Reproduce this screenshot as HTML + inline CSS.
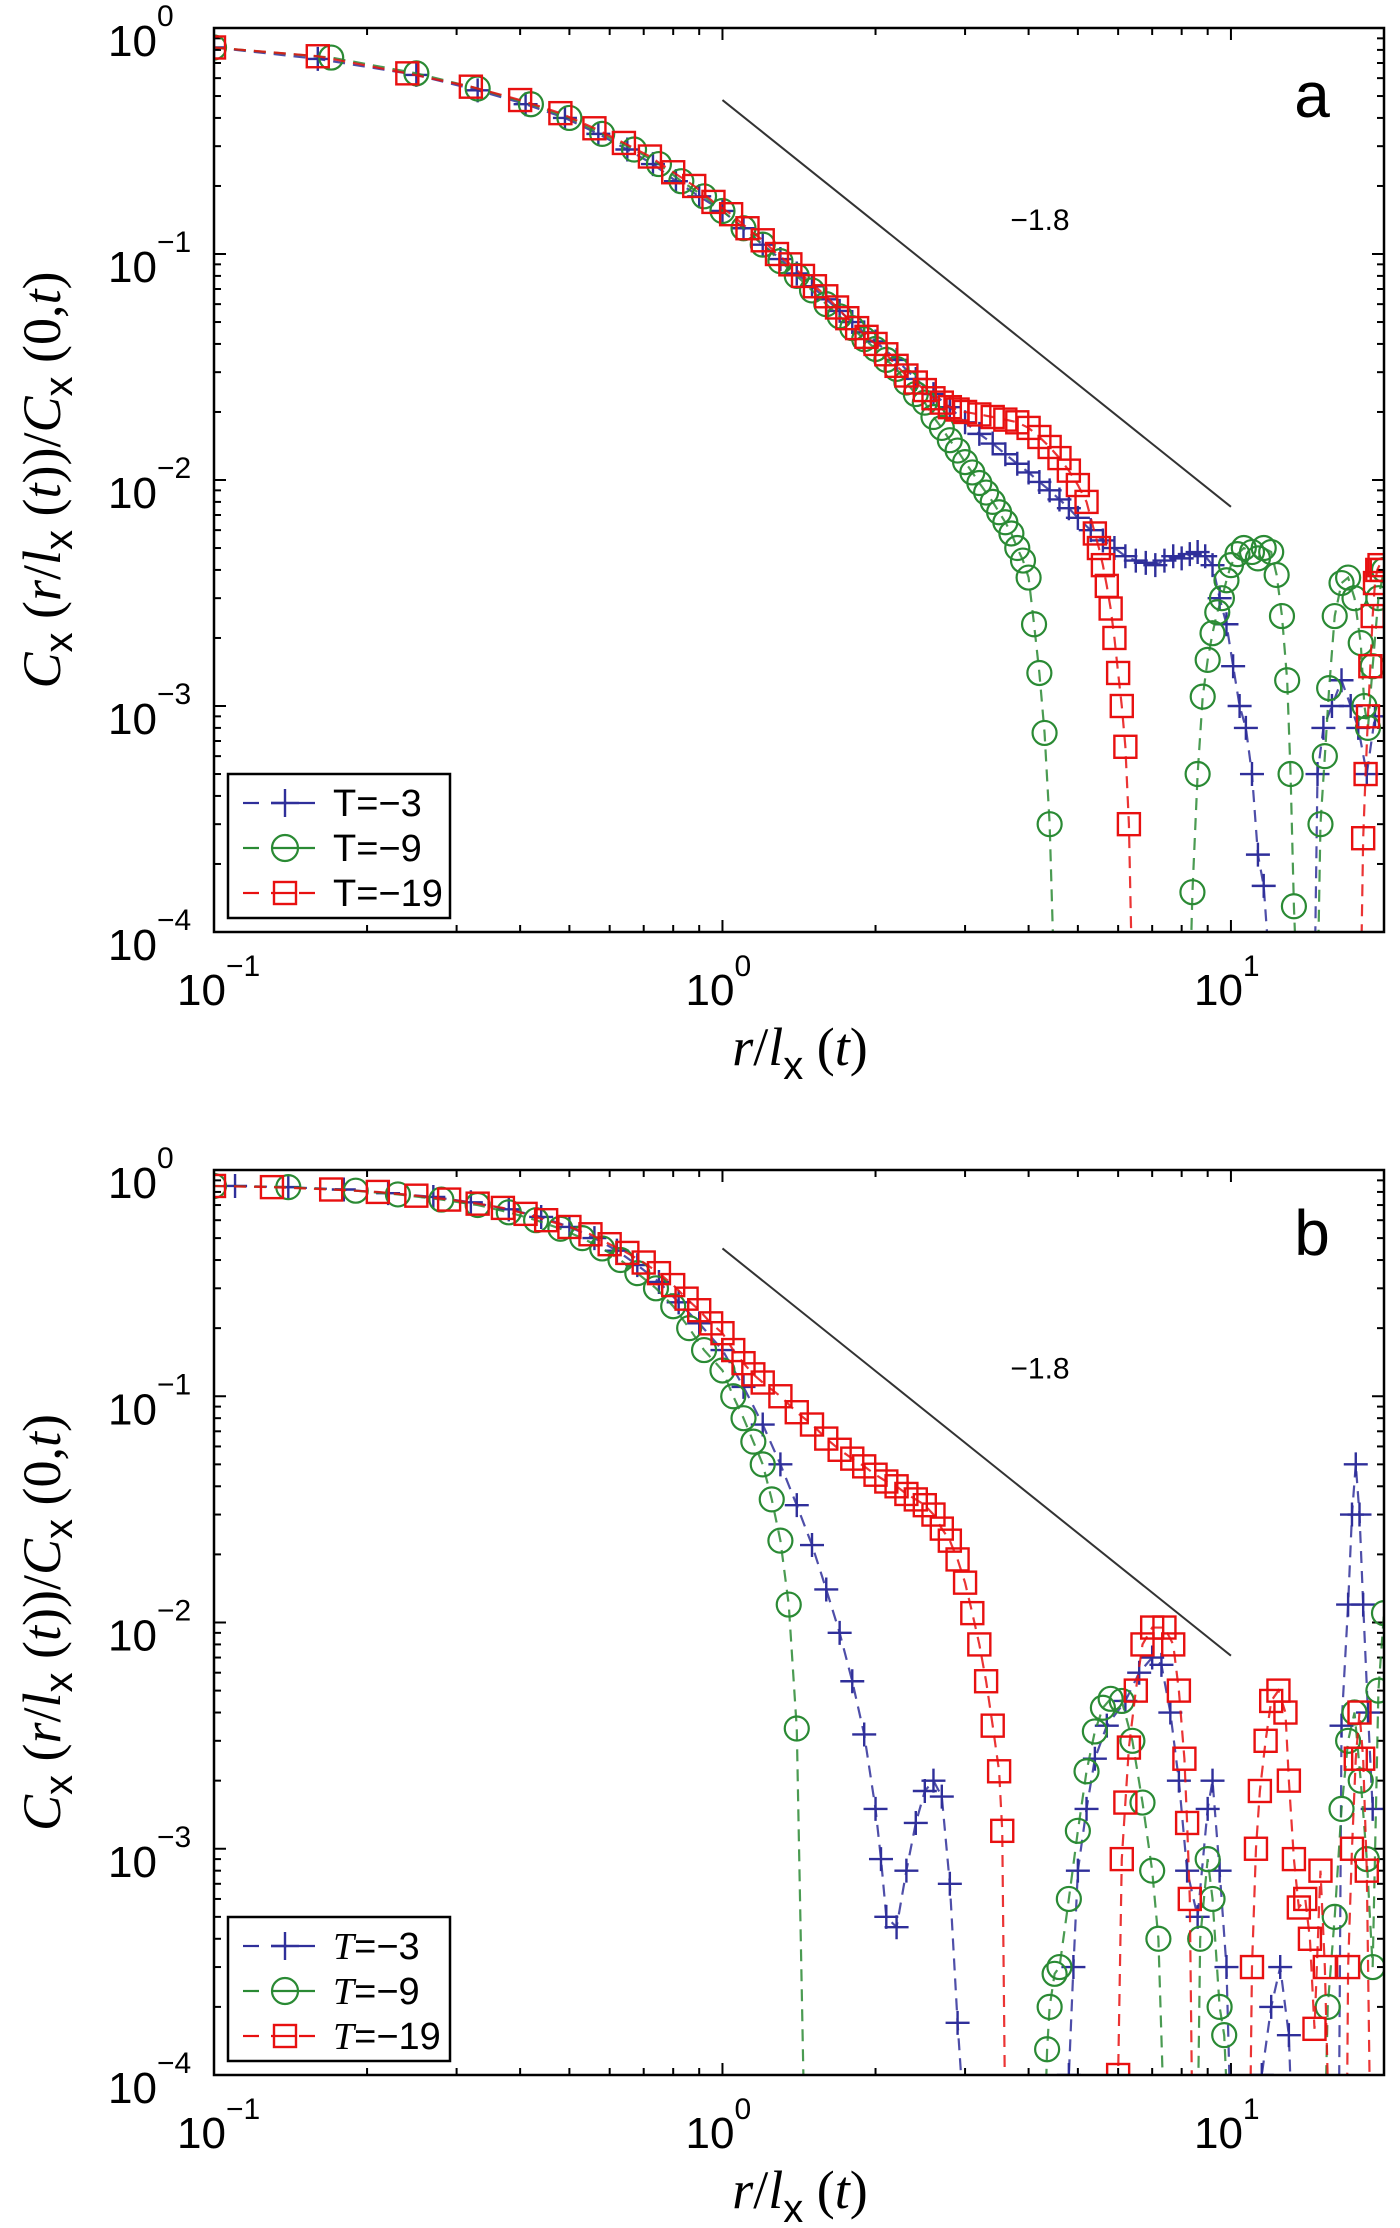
<!DOCTYPE html>
<html><head><meta charset="utf-8">
<style>
html,body{margin:0;padding:0;background:#fff;}
svg{display:block;font-family:"Liberation Sans","DejaVu Sans",sans-serif;}
</style></head>
<body>
<svg id="fig" width="1400" height="2228" viewBox="0 0 1400 2228" xmlns="http://www.w3.org/2000/svg"></svg>
<script>
// ---------- Panel a data (null = negative value, off log scale) ----------
const aBlueX=[0.1,0.16,0.25,0.33,0.41,0.49,0.57,0.65,0.73,0.81,0.9,1.0,1.1,1.2,1.3,1.4,1.5,1.6,1.7,1.8,1.9,2.0,2.2,2.4,2.6,2.8,3.0,3.2,3.4,3.6,3.8,4.0,4.2,4.4,4.6,4.8,5.0,5.3,5.6,5.9,6.2,6.5,6.8,7.1,7.4,7.7,8.0,8.3,8.6,8.9,9.2,9.5,9.8,10.1,10.4,10.7,11.0,11.3,11.6,12,14.6,14.8,15.2,15.8,16.5,17.2,17.8,18.5,19.2];
const aBlueY=[0.82,0.73,0.62,0.53,0.46,0.40,0.34,0.29,0.25,0.21,0.18,0.155,0.13,0.11,0.095,0.082,0.072,0.063,0.056,0.05,0.045,0.041,0.034,0.028,0.024,0.021,0.018,0.016,0.0145,0.013,0.0118,0.0108,0.0098,0.009,0.0082,0.0075,0.0068,0.006,0.0054,0.005,0.0046,0.0044,0.0043,0.0042,0.0044,0.0046,0.0045,0.0047,0.0048,0.0046,0.0042,0.003,0.0023,0.0015,0.001,0.0008,0.0005,0.00022,0.00016,null,null,0.0005,0.0008,0.001,0.0013,0.001,0.0008,0.0005,0.0009];
const aGreenX=[0.1,0.17,0.25,0.33,0.42,0.5,0.58,0.67,0.75,0.83,0.92,1.0,1.1,1.2,1.3,1.4,1.5,1.6,1.7,1.8,1.9,2.0,2.1,2.2,2.3,2.4,2.5,2.6,2.7,2.8,2.9,3.0,3.1,3.2,3.3,3.4,3.5,3.6,3.7,3.8,3.9,4.0,4.1,4.2,4.3,4.4,4.5,8.3,8.4,8.6,8.8,9.0,9.2,9.4,9.6,9.8,10,10.3,10.6,11,11.3,11.6,12,12.3,12.6,12.9,13.1,13.3,13.5,14.8,15.0,15.3,15.6,16,16.5,17,17.5,18,18.3,18.6,19,19.5,20];
const aGreenY=[0.82,0.74,0.63,0.54,0.46,0.40,0.34,0.29,0.25,0.21,0.18,0.155,0.13,0.11,0.093,0.08,0.069,0.06,0.053,0.047,0.042,0.038,0.034,0.031,0.027,0.024,0.022,0.019,0.017,0.015,0.0135,0.012,0.0108,0.0097,0.0088,0.008,0.0072,0.0065,0.0058,0.005,0.0044,0.0037,0.0023,0.0014,0.00076,0.0003,null,null,0.00015,0.0005,0.0011,0.0016,0.0021,0.0026,0.003,0.0036,0.0042,0.0047,0.005,0.0048,0.0045,0.005,0.0048,0.0038,0.0025,0.0013,0.0005,0.00013,null,null,0.0003,0.0006,0.0012,0.0025,0.0035,0.0037,0.003,0.0019,0.001,0.0008,0.0015,0.003,0.004];
const aRedX=[0.1,0.16,0.24,0.32,0.40,0.48,0.56,0.64,0.72,0.80,0.88,0.96,1.04,1.12,1.20,1.28,1.36,1.44,1.52,1.60,1.68,1.76,1.84,1.92,2.0,2.1,2.2,2.3,2.4,2.5,2.6,2.7,2.8,2.9,3.0,3.2,3.4,3.6,3.8,4.0,4.2,4.4,4.6,4.8,5.0,5.2,5.4,5.5,5.6,5.7,5.8,5.9,6.0,6.1,6.2,6.3,6.4,18.0,18.2,18.4,18.6,18.8,19.0,19.2,19.4,19.6,19.8];
const aRedY=[0.82,0.75,0.63,0.55,0.48,0.42,0.36,0.31,0.27,0.23,0.20,0.17,0.15,0.13,0.115,0.10,0.09,0.08,0.072,0.065,0.058,0.052,0.047,0.043,0.04,0.036,0.032,0.029,0.027,0.025,0.023,0.022,0.021,0.0205,0.02,0.0195,0.019,0.0185,0.018,0.017,0.0155,0.014,0.0125,0.011,0.0095,0.008,0.0058,0.005,0.0042,0.0034,0.0027,0.002,0.0014,0.001,0.00066,0.0003,null,null,0.00026,0.0005,0.0009,0.0015,0.0025,0.0035,0.004,0.0042,0.004];
// ---------- Panel b data ----------
const bBlueX=[0.11,0.14,0.18,0.22,0.27,0.32,0.38,0.44,0.5,0.56,0.62,0.68,0.75,0.82,0.9,1.0,1.1,1.2,1.3,1.4,1.5,1.6,1.7,1.8,1.9,2.0,2.05,2.1,2.2,2.3,2.4,2.5,2.6,2.7,2.8,2.9,3.0,4.7,4.8,4.9,5.0,5.2,5.4,5.7,6.2,6.6,7.0,7.3,7.6,7.9,8.2,8.6,9.0,9.2,9.5,9.8,10,11.3,11.5,12,12.5,13,13.2,16.3,16.5,17,17.3,17.6,17.9,18.2,18.6,19];
const bBlueY=[0.85,0.84,0.82,0.79,0.76,0.72,0.67,0.62,0.56,0.5,0.44,0.38,0.32,0.26,0.21,0.16,0.11,0.075,0.05,0.033,0.022,0.014,0.009,0.0055,0.0032,0.0015,0.0009,0.0005,0.00045,0.0008,0.0013,0.0018,0.002,0.0017,0.0007,0.00017,null,null,0.0001,0.0003,0.0008,0.0015,0.0025,0.0035,0.0045,0.006,0.007,0.0065,0.004,0.002,0.0008,0.0005,0.0015,0.002,0.0008,0.0003,null,null,0.0001,0.0002,0.0003,0.00015,null,null,0.0035,0.012,0.03,0.05,0.03,0.012,0.004,0.0015];
const bGreenX=[0.1,0.14,0.19,0.23,0.28,0.33,0.38,0.43,0.48,0.53,0.58,0.63,0.68,0.74,0.8,0.86,0.92,1.0,1.05,1.1,1.15,1.2,1.25,1.3,1.35,1.4,1.45,4.3,4.35,4.4,4.5,4.6,4.8,5.0,5.2,5.4,5.6,5.8,6.1,6.4,6.7,7.0,7.2,7.4,8.6,8.7,9.0,9.2,9.5,9.7,9.9,15.3,15.5,16,16.5,17,17.5,18,18.5,19,19.5,20];
const bGreenY=[0.85,0.84,0.81,0.78,0.74,0.70,0.65,0.6,0.55,0.5,0.45,0.4,0.35,0.3,0.25,0.2,0.16,0.13,0.1,0.08,0.063,0.05,0.035,0.023,0.012,0.0034,null,null,0.00013,0.0002,0.00028,0.0003,0.0006,0.0012,0.0022,0.0033,0.0042,0.0046,0.0045,0.003,0.0016,0.0008,0.0004,null,null,0.0004,0.0009,0.0006,0.0002,0.00015,null,null,0.0002,0.0005,0.0015,0.003,0.004,0.002,0.0009,0.0003,0.005,0.011];
const bRedX=[0.1,0.13,0.17,0.21,0.25,0.29,0.33,0.37,0.41,0.45,0.5,0.55,0.6,0.65,0.7,0.75,0.8,0.85,0.9,0.95,1.0,1.05,1.1,1.15,1.2,1.3,1.4,1.5,1.6,1.7,1.8,1.9,2.0,2.1,2.2,2.3,2.4,2.5,2.6,2.7,2.8,2.9,3.0,3.1,3.2,3.3,3.4,3.5,3.55,3.6,5.95,6.0,6.1,6.2,6.3,6.5,6.7,7.0,7.4,7.7,7.9,8.1,8.2,8.3,8.4,10.9,11.0,11.2,11.4,11.7,12.0,12.4,12.8,13.0,13.3,13.6,14.0,14.3,14.6,15.0,15.3,15.6,16.9,17.0,17.3,17.6,17.9,18.2,18.5,18.8];
const bRedY=[0.85,0.84,0.82,0.8,0.77,0.74,0.71,0.68,0.64,0.6,0.56,0.52,0.47,0.43,0.39,0.35,0.31,0.27,0.24,0.21,0.19,0.16,0.14,0.125,0.115,0.1,0.085,0.075,0.065,0.058,0.053,0.049,0.045,0.042,0.04,0.037,0.035,0.033,0.03,0.026,0.023,0.019,0.015,0.011,0.008,0.0055,0.0035,0.0022,0.0012,null,null,0.0001,0.0009,0.0016,0.0028,0.005,0.008,0.0095,0.0095,0.008,0.005,0.0025,0.0013,0.0006,null,null,0.0003,0.001,0.0018,0.003,0.0045,0.005,0.004,0.002,0.0009,0.00055,0.0006,0.0004,0.00016,0.0008,0.0003,null,null,0.0003,0.001,0.0025,0.004,0.0025,0.0008,null];
const legendA=["T=\u22123","T=\u22129","T=\u221219"];
const slopeExp=-1.8;
const yTickExps=[0,-1,-2,-3,-4];
const xTickExps=[-1,0,1];

const NS="http://www.w3.org/2000/svg";
const svg=document.getElementById('fig');
function el(tag,attrs,parent){const e=document.createElementNS(NS,tag);for(const k in attrs)e.setAttribute(k,attrs[k]);(parent||svg).appendChild(e);return e;}
const L=214,R=1384,XMIN=0.1,XMAX=20;
const colors={blue:"#2f2f9a",green:"#2a8a34",red:"#e81010"};

function drawPanel(T,B,letter,letterY,series,slopeA,italicT,tag){
  const g=el('g',{});
  
  
  const fx=x=>L+(Math.log10(x)-Math.log10(XMIN))/(Math.log10(XMAX)-Math.log10(XMIN))*(R-L);
  const fy=y=>T+(0-Math.log10(y))/4*(B-T);
  const cid='clip'+tag;
  const cp=el('clipPath',{id:cid},g);el('rect',{x:L,y:T,width:R-L,height:B-T},cp);
  // ticks
  const tk=el('g',{stroke:'#000','stroke-width':2},g);
  
  
  for(let e=-1;e<=1;e++)for(let m=1;m<=9;m++){const v=m*Math.pow(10,e);if(v<XMIN||v>XMAX)continue;const x=fx(v);const len=m===1?12:7;
    el('line',{x1:x,y1:B,x2:x,y2:B-len},tk);el('line',{x1:x,y1:T,x2:x,y2:T+len},tk);}
  for(let e=-4;e<0;e++)for(let m=1;m<=9;m++){const v=m*Math.pow(10,e);const y=fy(v);const len=m===1?12:7;
    el('line',{x1:L,y1:y,x2:L+len,y2:y},tk);el('line',{x1:R,y1:y,x2:R-len,y2:y},tk);}
  // series
  series.forEach(s=>{
    const sg=el('g',{'clip-path':'url(#'+cid+')'},g);
    
    
    let pts=s.x.map((x,i)=>[fx(x),s.y[i]===null?B+60:fy(s.y[i])]);
    el('polyline',{points:pts.map(p=>p.join(',')).join(' '),fill:'none',stroke:s.color,'stroke-width':2.2,'stroke-dasharray':'12 8',opacity:0.85},sg);
    s.x.forEach((x,i)=>{if(s.y[i]===null)return;const px=fx(x),py=fy(s.y[i]);
      let m;
      if(s.marker==='plus'){m=el('path',{d:`M${px-12},${py}H${px+12}M${px},${py-12}V${py+12}`,stroke:s.color,'stroke-width':2.4,fill:'none'},sg);}
      else if(s.marker==='circle'){m=el('circle',{cx:px,cy:py,r:12,stroke:s.color,'stroke-width':2.2,fill:'none'},sg);}
      else {m=el('rect',{x:px-11,y:py-11,width:22,height:22,stroke:s.color,'stroke-width':2.4,fill:'none'},sg);}
      
      
    });
  });
  // slope line
  const sl=el('line',{x1:fx(1),y1:fy(slopeA),x2:fx(10),y2:fy(slopeA*Math.pow(10,slopeExp)),stroke:'#333','stroke-width':2},g);
  
  
  const st=el('text',{x:1040,y:fy(slopeA)+130,'font-size':30,'text-anchor':'middle'},g);st.textContent='\u22121.8';
  
  
  // axes box
  const box=el('rect',{x:L,y:T,width:R-L,height:B-T,fill:'none',stroke:'#000','stroke-width':2.5},g);
  
  
  // panel letter
  const lt=el('text',{x:1312,y:letterY,'font-size':64,'text-anchor':'middle'},g);lt.textContent=letter;
  
  
  // y tick labels
  yTickExps.forEach(e=>{const y=fy(Math.pow(10,e));
    const t=el('text',{x:157,y:y+28,'font-size':44,'text-anchor':'end'},g);t.textContent='10';
    
    
    const s=el('text',{x:157,y:y-2,'font-size':30,'text-anchor':'start'},g);s.textContent=e===0?'0':'\u2212'+(-e);
    
    });
  xTickExps.forEach(e=>{const x=fx(Math.pow(10,e));
    const t=el('text',{x:x+12,y:B+73,'font-size':44,'text-anchor':'end'},g);t.textContent='10';
    
    
    const s=el('text',{x:x+12,y:B+44,'font-size':30,'text-anchor':'start'},g);s.textContent=e===0?'0':(e<0?'\u2212':'')+Math.abs(e);
    
    });
  // x label
  const xl=el('text',{x:800,y:B+133,'font-size':54,'text-anchor':'middle','font-family':'"Liberation Serif",serif'},g);
  xl.innerHTML='<tspan font-style="italic">r</tspan>/<tspan font-style="italic">l</tspan><tspan font-family="Liberation Sans" font-size="40" dy="14">x</tspan><tspan dy="-14"> (</tspan><tspan font-style="italic">t</tspan>)';
  
  
  // y label
  const cy=(T+B)/2;
  const yl=el('text',{x:0,y:0,'font-size':54,'text-anchor':'middle','font-family':'"Liberation Serif",serif',transform:`translate(60,${cy}) rotate(-90)`},g);
  yl.innerHTML='<tspan font-style="italic">C</tspan><tspan font-family="Liberation Sans" font-size="40" dy="12">x</tspan><tspan dy="-12"> (</tspan><tspan font-style="italic">r</tspan>/<tspan font-style="italic">l</tspan><tspan font-family="Liberation Sans" font-size="40" dy="12">x</tspan><tspan dy="-12"> (</tspan><tspan font-style="italic">t</tspan>))/<tspan font-style="italic">C</tspan><tspan font-family="Liberation Sans" font-size="40" dy="12">x</tspan><tspan dy="-12"> (0,</tspan><tspan font-style="italic">t</tspan>)';
  
  
  // legend
  const lg=el('g',{},g);
  
  
  const ly0=B-158;
  el('rect',{x:228,y:ly0,width:222,height:144,fill:'#fff',stroke:'#000','stroke-width':2.5},lg);
  series.forEach((s,i)=>{const y=ly0+29+i*45;
    const e=el('g',{},lg);
    
    
    el('line',{x1:243,y1:y,x2:325,y2:y,stroke:s.color,'stroke-width':2.2,'stroke-dasharray':'16 12'},e);
    if(s.marker==='plus')el('path',{d:`M271,${y}H299M285,${y-14}V${y+14}`,stroke:s.color,'stroke-width':2.4},e);
    else if(s.marker==='circle')el('circle',{cx:285,cy:y,r:13,stroke:s.color,'stroke-width':2.2,fill:'#fff'},e),el('line',{x1:272,y1:y,x2:298,y2:y,stroke:s.color,'stroke-width':2.2},e);
    else el('rect',{x:274,y:y-11,width:22,height:22,stroke:s.color,'stroke-width':2.4,fill:'#fff'},e),el('line',{x1:274,y1:y,x2:296,y2:y,stroke:s.color,'stroke-width':2.2},e);
    const t=el('text',{x:333,y:y+13,'font-size':38},e);
    if(italicT)t.innerHTML='<tspan font-style="italic" font-family="Liberation Serif">T</tspan>'+legendA[i].slice(1);else t.textContent=legendA[i];
  });
}
drawPanel(28,932,'a',117,[
  {name:'t-3',x:aBlueX,y:aBlueY,color:colors.blue,marker:'plus'},
  {name:'t-9',x:aGreenX,y:aGreenY,color:colors.green,marker:'circle'},
  {name:'t-19',x:aRedX,y:aRedY,color:colors.red,marker:'square'}],0.48,false,'a');
drawPanel(1170,2075,'b',1255,[
  {name:'t-3',x:bBlueX,y:bBlueY,color:colors.blue,marker:'plus'},
  {name:'t-9',x:bGreenX,y:bGreenY,color:colors.green,marker:'circle'},
  {name:'t-19',x:bRedX,y:bRedY,color:colors.red,marker:'square'}],0.45,true,'b');
</script>
</body></html>
